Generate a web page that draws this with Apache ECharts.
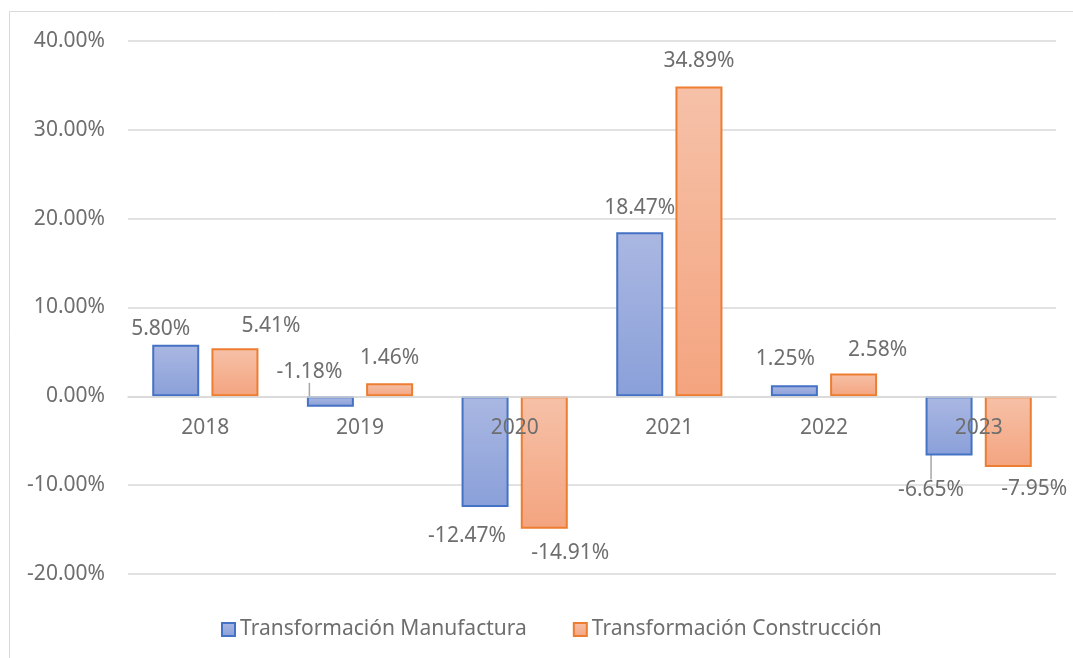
<!DOCTYPE html>
<html>
<head>
<meta charset="utf-8">
<title>Transformación</title>
<script src="https://cdn.jsdelivr.net/npm/echarts@6/dist/echarts.min.js"></script>
<style>
  html, body { margin: 0; padding: 0; background: #fff; }
  #chart { width: 1073px; height: 658px; }
</style>
</head>
<body>
<div id="chart"></div>
<script>
// data
const years = ['2018', '2019', '2020', '2021', '2022', '2023']
const manufactura = [5.80, -1.18, -12.47, 18.47, 1.25, -6.65]
const construccion = [5.41, 1.46, -14.91, 34.89, 2.58, -7.95]
const seriesNames = ['Transformación Manufactura', 'Transformación Construcción']

// label nudges (Excel placed some labels by hand)
const manufacturaNudge = [[-15, 9], [-21, -59], [-18, 4], [0, 0], [-9, -2], [-18, 10]]
const construccionNudge = [[36, 2], [0, -1], [26, 0], [0, -1], [24, 1], [26, -2]]
const leaderIdx = [1, 5]

const FONT = 'Noto Sans'
const TXT = '#6e6e6e'
const GRID = '#d9d9d9'

function grad(top, bottom) {
  return new echarts.graphic.LinearGradient(0, 0, 0, 1, [
    { offset: 0, color: top },
    { offset: 1, color: bottom }
  ])
}

function pct(v) {
  return v.toFixed(2) + '%'
}

const chart = echarts.init(document.getElementById('chart'))

chart.setOption({
  animation: false,
  textStyle: { fontFamily: FONT },
  graphic: [{
    type: 'rect',
    shape: { x: 9.5, y: 11.5, width: 1200, height: 800 },
    style: { fill: 'none', stroke: GRID, lineWidth: 1 },
    silent: true
  }],
  grid: {
    left: 128,
    right: 17,
    top: 41,
    bottom: 84
  },
  legend: {
    data: seriesNames,
    bottom: 13,
    left: 216,
    icon: 'rect',
    itemWidth: 13,
    itemHeight: 13,
    itemGap: 46,
    textStyle: { fontFamily: FONT, fontSize: 21, color: TXT }
  },
  xAxis: {
    type: 'category',
    data: years,
    z: 10,
    // put the axis on the 0% line (grid height 533 over -20..40)
    offset: -177.7,
    axisTick: { show: false },
    axisLine: { onZero: false, lineStyle: { color: GRID, width: 1.5 } },
    axisLabel: { margin: 21, fontSize: 21, color: TXT, fontFamily: FONT }
  },
  yAxis: {
    type: 'value',
    min: -20,
    max: 40,
    interval: 10,
    axisLine: { show: false },
    axisTick: { show: false },
    splitLine: { lineStyle: { color: GRID, width: 1.5 } },
    axisLabel: {
      margin: 23,
      fontSize: 21,
      color: TXT,
      fontFamily: FONT,
      formatter: v => pct(v)
    }
  },
  series: [
    {
      name: seriesNames[0],
      type: 'bar',
      barWidth: 47,
      barGap: '26%',
      data: manufactura.map((v, i) => ({
        value: v,
        labelLine: { show: leaderIdx.indexOf(i) >= 0 }
      })),
      itemStyle: {
        color: grad('#aab7e2', '#8aa0d9'),
        borderColor: '#4472c4',
        borderWidth: 2
      },
      label: {
        show: true,
        position: 'outside',
        distance: 14,
        fontSize: 21,
        color: TXT,
        fontFamily: FONT,
        formatter: p => pct(p.value)
      },
      labelLine: { lineStyle: { color: '#a6a6a6', width: 1.5 } },
      labelLayout: p => ({ dx: manufacturaNudge[p.dataIndex][0], dy: manufacturaNudge[p.dataIndex][1] })
    },
    {
      name: seriesNames[1],
      type: 'bar',
      barWidth: 47,
      barGap: '26%',
      data: construccion,
      itemStyle: {
        color: grad('#f6c1a8', '#f4a47f'),
        borderColor: '#ed7d31',
        borderWidth: 2
      },
      label: {
        show: true,
        position: 'outside',
        distance: 14,
        fontSize: 21,
        color: TXT,
        fontFamily: FONT,
        formatter: p => pct(p.value)
      },
      labelLayout: p => ({ dx: construccionNudge[p.dataIndex][0], dy: construccionNudge[p.dataIndex][1] })
    }
  ]
})
</script>
</body>
</html>
